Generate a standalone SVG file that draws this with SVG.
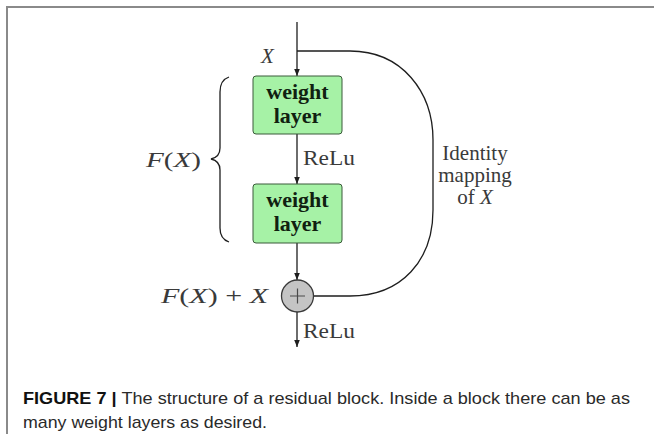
<svg xmlns="http://www.w3.org/2000/svg" width="654" height="434" viewBox="0 0 654 434">
<style>
.frame{stroke:#8a8a8a;stroke-width:2;fill:none}
.ln{stroke:#1e1e1e;stroke-width:1.3;fill:none}
.box{fill:#a6f2a6;stroke:#3a5a3a;stroke-width:1}
.bt{font-family:"Liberation Serif",serif;font-weight:bold;font-size:22px;fill:#102010;text-anchor:middle}
.t{font-family:"Liberation Serif",serif;font-size:21px;fill:#3a3a3a}
.it{font-style:italic}
.cap{font-family:"Liberation Sans",Arial,sans-serif;font-size:17px;fill:#2a2a2a}
</style>
<defs>
<marker id="ah" viewBox="0 0 10 10" refX="10" refY="5" markerWidth="7" markerHeight="7" markerUnits="userSpaceOnUse" orient="auto">
<path d="M0,1 L10,5 L0,9 Z" fill="#1e1e1e"/>
</marker>
</defs>
<rect width="654" height="434" fill="#ffffff"/>
<path class="frame" d="M7,434 V7 H654"/>
<g id="connectors">
<line class="ln" x1="297" y1="22" x2="297" y2="76" marker-end="url(#ah)"/>
<line class="ln" x1="297" y1="134" x2="297" y2="184" marker-end="url(#ah)"/>
<line class="ln" x1="297" y1="243" x2="297" y2="280" marker-end="url(#ah)"/>
<line class="ln" x1="297" y1="312" x2="297" y2="347" marker-end="url(#ah)"/>
<path class="ln" d="M297,51 H350 C402,51 433,92 433,140 V210 C433,260 402,296 350,296 H314"/>
<path class="ln" stroke="#555" stroke-width="1" d="M229,77 Q220,80 220,92 L220,148 Q220,157 211,159 Q220,161 220,170 L220,228 Q220,239 229,242"/>
</g>
<g id="input">
<text class="t it" x="261" y="63" font-size="24">X</text>
</g>
<g id="weight1">
<rect class="box" x="253" y="76" width="89" height="58" rx="3"/>
<text class="bt" x="297.5" y="99">weight</text>
<text class="bt" x="297.5" y="123">layer</text>
</g>
<g id="relu1">
<text class="t" x="303" y="165" textLength="52" lengthAdjust="spacingAndGlyphs">ReLu</text>
</g>
<g id="weight2">
<rect class="box" x="253" y="184" width="89" height="59" rx="3"/>
<text class="bt" x="297.5" y="207">weight</text>
<text class="bt" x="297.5" y="231">layer</text>
</g>
<g id="fx">
<text class="t" x="146" y="167" textLength="55" lengthAdjust="spacingAndGlyphs"><tspan class="it">F</tspan>(<tspan class="it">X</tspan>)</text>
</g>
<g id="identity">
<text class="t" x="475" y="160" text-anchor="middle">Identity</text>
<text class="t" x="475" y="182" text-anchor="middle">mapping</text>
<text class="t" x="475" y="204" text-anchor="middle">of <tspan class="it">X</tspan></text>
</g>
<g id="sum">
<circle cx="297.5" cy="296" r="16" fill="#c4c4c4" stroke="#3a3a3a" stroke-width="1.3"/>
<path d="M290,296 H305 M297.5,288.5 V303.5" stroke="#4a4a4a" stroke-width="1.2"/>
<text class="t" x="161" y="303" textLength="107" lengthAdjust="spacingAndGlyphs"><tspan class="it">F</tspan>(<tspan class="it">X</tspan>) + <tspan class="it">X</tspan></text>
</g>
<g id="relu2">
<text class="t" x="303" y="338" textLength="52" lengthAdjust="spacingAndGlyphs">ReLu</text>
</g>
<g id="caption">
<text class="cap" x="23" y="404" textLength="607" lengthAdjust="spacingAndGlyphs"><tspan font-weight="bold" fill="#111">FIGURE 7 |</tspan> The structure of a residual block. Inside a block there can be as</text>
<text class="cap" x="23" y="428" textLength="244" lengthAdjust="spacingAndGlyphs">many weight layers as desired.</text>
</g>
</svg>
